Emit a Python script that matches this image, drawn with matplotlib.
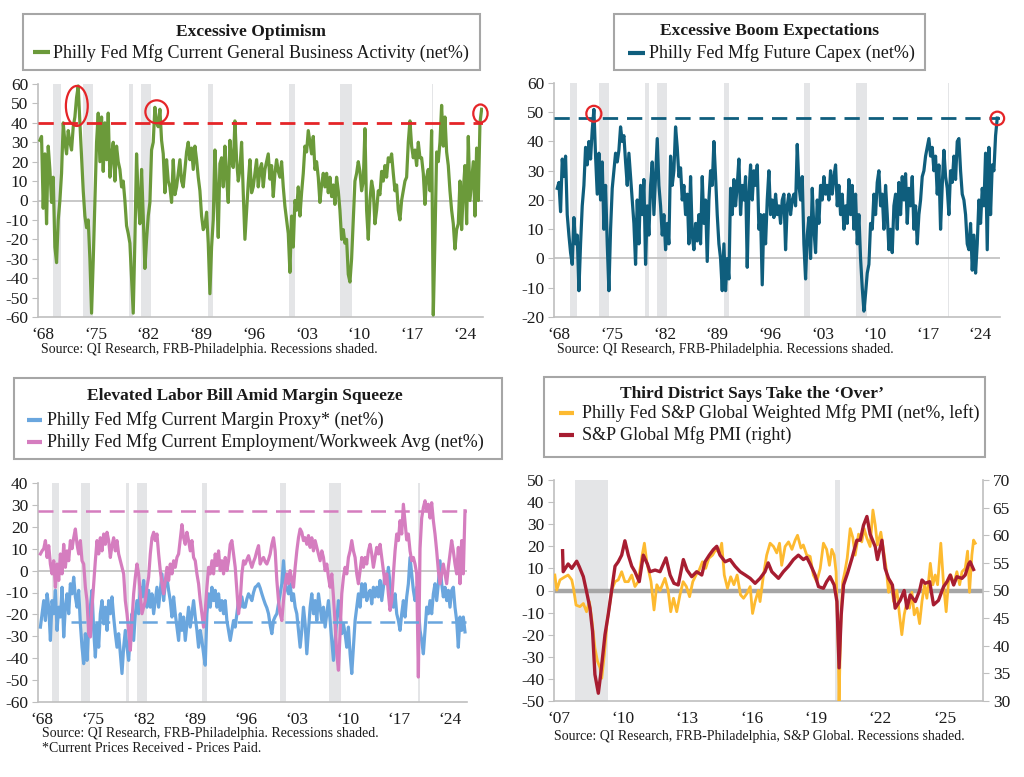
import numpy as np
import matplotlib
matplotlib.use('Agg')
import matplotlib.pyplot as plt
from matplotlib.patches import Ellipse, Rectangle
from matplotlib.lines import Line2D

plt.rcParams['font.family'] = ['Liberation Serif', 'DejaVu Serif']
plt.rcParams['axes.unicode_minus'] = False

# ---------------- DATA ----------------
# Panel 1: Philly Fed Mfg Current General Business Activity (net%), sampled ~4.5x per year
gba_start, gba_step = 1967.6, 0.2212
gba = [31, 33, -4, 24, -12, 28, 16, -1, 12, -24, -32, -10, 0, 14, 40, 30, 24, 36, 30, 26,
       38, 43, 53, 59, 40, 23, 5, -8, -14, -10, -30, -58, -31, 0, 30, 45, 20, 43, 15, 40,
       21, 45, 12, 23, 30, 10, 28, 20, 16, 7, 10, 0, -13, -17, -22, -40, -58, -20, 24, 0,
       -12, 16, -8, -35, -20, -8, -1, 26, 30, 48, 40, 38, 47, 31, 24, 4, 21, 10, 7, -1,
       21, 3, 7, 14, 21, 10, 7, 16, 25, 30, 21, 27, 16, 28, 21, 12, 5, -8, -15, -13,
       -6, -22, -48, -24, -10, 26, 5, -19, 19, 22, 7, 28, 12, -1, 31, 20, 17, 41, 21, 10,
       16, 30, 4, -20, -5, 9, 21, 4, 7, 14, 21, 7, 16, 19, 7, 16, 20, 24, 11, 18,
       2, 14, 21, 15, 12, 20, 7, -3, -10, -17, -37, -8, -24, 0, -5, 7, -8, 4, 14, 28,
       25, 36, 30, 24, 33, 16, 20, 12, -1, 8, 14, 7, 14, 4, 12, 2, 8, -2, 12, 5,
       -5, -20, -15, -22, -20, -38, -42, -30, -10, 10, 14, 20, 15, 5, 10, 37, -5, -20, 0, 10,
       5, -12, -5, 5, 3, 15, 10, 18, 12, 22, 20, 24, 14, 5, 8, -5, -10, 0, 5, 10,
       12, 30, 41, 28, 22, 26, 18, 30, 22, 22, 14, -2, 12, 16, 5, 36, -59, -20, 25, 20,
       30, 49, 28, 43, 25, 18, 5, -5, -12, -25, -15, -12, 10, -15, 5, 18, -12, 33, 0, 10,
       20, -8, 27, 0, 40, 47]

# Panel 2: Philly Fed Mfg Future Capex (net%)
capex_start, capex_step = 1967.73, 0.2216
capex = [24, 26, 16, 34, 28, 35, 15, 8, 2, -2, 14, 5, 8, -11, 5, 18, 25, 38, 32, 40,
         34, 44, 51, 35, 22, 36, 20, 33, 10, 25, 5, -11, 10, 24, 30, 36, 33, 37, 45, 40,
         42, 33, 25, 36, 28, 20, 12, -2, 20, 5, 25, 15, 27, -2, 18, 8, 25, 33, 15, 28,
         41, 25, 18, 8, 15, 3, 12, 5, 35, 25, 30, 45, 38, 28, 31, 20, 25, 15, 22, 5,
         28, 8, 3, 12, 6, 15, 5, 28, 12, 20, -1, 20, 30, 25, 40, 28, 15, 5, 0, -11,
         5, -11, 0, -7, 24, 15, 27, 18, 25, 34, 15, 25, 20, 28, -3, 22, 32, 20, 30, 25,
         32, 10, 15, -9, 15, 5, 20, 30, 15, 20, 14, 22, 15, 18, 12, 20, 22, 3, 18, 22,
         15, 20, 22, 18, 39, 25, 20, 28, 5, -7, 8, 14, 0, 24, 10, 2, 20, 12, 25, 20,
         28, 22, 25, 20, 30, 22, 28, 32, 18, 25, 15, 22, 10, 18, 12, 27, 15, 25, 10, 22,
         5, 15, 0, -10, -18, -12, -5, -2, 12, 10, 22, 15, 26, 30, 18, 22, 10, 25, 15, 3,
         10, 2, 18, 22, 10, 26, 15, 28, 20, 29, 12, 24, 18, 28, 10, 18, 5, 15, 20, 28,
         30, 35, 38, 41, 35, 38, 30, 35, 22, 32, 10, 25, 37, 28, 24, 15, 30, 26, 35, 27,
         40, 41, 30, 22, 20, 15, 5, 3, 12, -4, 8, -5, 5, 20, 12, 24, 18, 36, 3, 38,
         15, 32, 30, 42, 48]

# Panel 3: Margin proxy (blue) and Employment/Workweek avg (pink)
lab_start, lab_step = 1967.73, 0.2286
margin = [-25.8, -19.7, -13.7, -22.8, -10.6, -16.7, -31.9, -13.7, -19.7, -9, -27.3, -16.7, -21.2, -7.6,
          -30.3, -16.7, -10.6, -19.7, -6, -10.6, -3, -12, -16.7, -9, -24.3, -35, -42.5, -28.8, -41,
          -25.8, -16.7, -9, -27.3, -39.5, -24.3, -35, -19.7, -13.7, -24.3, -16.7, -27.3, -13.7, -19.7,
          -12, -21.2, -28.8, -35, -28.8, -38, -47, -35, -27.3, -35, -41, -28.8, -19.7, -31.9, -19.7,
          -13.7, -19.7, -7.6, -12, -4.5, -13.7, -16.7, -9, -16.7, -10.6, -19.7, -13.7, -7.6, -16.7,
          -9, -1.5, -13.7, -6, -3, -9, -13.7, -21.2, -12, -19.7, -25.8, -31.9, -19.7, -27.3, -21.2,
          -31.9, -24.3, -16.7, -25.8, -19.7, -13.7, -21.2, -27.3, -35, -27.3, -31.9, -38, -43.2,
          -19.7, -10.6, -16.7, -7.6, -13.7, -9, -16.7, -10.6, -18.2, -13.7, -19.7, -13.7, -22.8,
          -27.3, -31.9, -27.3, -22.8, -25.8, -19.7, -13.7, -16.7, -12, -16.7,
          -16.7, -13, -10.6, -12, -13.7, -10, -7.6, -7, -6, -8, -10.6, -13, -15.2, -17, -19.7, -25,
          -28.8, -22.8, -21, -19.7, -15, -10.6, -6, 4.5, -6, -8, -10.6, -6, -13.7, -10.6, -16.7,
          -19.7, -27.3, -35, -27.3, -16.7, -24.3, -38, -27.3, -16.7, -10.6, -19.7, -13.7, -22.8,
          -10.6, -16.7, -22.8, -16.7, -25.8, -19.7, -13.7, -22.8, -31.9, -41, -31.9, -22.8, -13.7,
          -19.7, -28.8, -24.3, -28.8, -35, -25.8, -38, -47, -35, -22.8, -16.7, -10.6, -16.7, -6,
          -12, -6, -13.7, -10.6, -9, -15.2, -7.6, -12, -7.6, -12, -4.5, -13.7, -7.6, -1.5, -6, 1.5,
          -6, -13.7, -16.7, -10.6, -19.7, -22.8, -27.3, -19.7, -13.7, -21.2, -12, -6, 6, -1.5, -9,
          -13.7, -7.6, -16.7, -27.3, -31.9, -38, -27.3, -16.7, -19.7, -13.7, -19.7, -10.6, -6,
          -13.7, -6, 4.5, -6, -12, -7.6, -13.7, -9, -16.7, -9, -7.6, -16.7, -22.8, -35, -21.2,
          -27.3, -21.2, -28]
employment = [7.6, 9, 10, 13.7, 6, 11.4, 3, -1.5, 4.5, -7.6, 3, -4.5, 7.6, -1.5, 12, 1.5, 9, 4.5,
              13.7, 10, 15, 19, 12, 7.6, 13.7, 4.5, 3, -7.6, -13.7, -28.8, -30.3, -16.7, -6, 4.5,
              13.7, 7.6, 15, 9, 16.7, 12, 17.5, 13.7, 6, 11.4, 15, 9, 13.7, 7.6, 4.5, 1.5, -1.5,
              -13.7, -19.7, -27.3, -36.4, -22.8, -10.6, -3, 3, -1.5, -10.6, -19.7, -16.7, -13.7,
              -7.6, -3, 7.6, 15, 17.5, 13.7, 16.7, 7.6, 0, -6, -10.6, -4.5, 1.5, -4.5, 3, -1.5, 4.5,
              1.5, 6, 7.6, 14.4, 21, 15, 12, 17.5, 13.7, 9, 13.7, 6, 4.5, -1.5, -6, -13.7, -19.7,
              -25.8, -18.2, -7.6, 1.5, -1.5, 4.5, -1.5, 7.6, 2.3, 9, 0, 4.5, -1.5, 6, 0, 4.5, 12,
              13.7, 7.6, 1.5, -9, -19.7, -13.7, -1.5, 4.5,
              3, 5, 6.8, 4, 1.5, 4, 6, 9, 11.4, 3, 5, 6, 4, 3, 5, 7.6, 12, 15, 9, -4.5, -13.7,
              -19.7, -22.8, -13.7, -6, -1.5, -6, 0, -4.5, -7.6, 1.5, 9, 15, 19, 17.5, 13.7, 15, 12,
              16, 10.6, 15, 9, 13.7, 10.6, 7.6, 4.5, 9, 6, 0, 3, -3, -7.6, -1.5, -12, -24, -38,
              -45.5, -28, -10.6, -3, 1.5, -1.5, 6, 9, 13.7, 9, 6, -1.5, -6, 0, 6, 1.5, 6, 3, 9, 12,
              7.6, 1.5, 6, 10.6, 7.6, 12, 6, 0, -6, -1.5, -10.6, -18.2, -13.7, -1.5, 9, 16.7, 13.7,
              22.8, 16.7, 30.3, 22, 14, 16.7, 9, 4.5, 6, 3, -1.5, -48.6, 10, 24, 28.8, 31.9, 27.3,
              30.3, 24, 31, 22.8, 16.7, 9, 0, -6, -1.5, 3, -1.5, -6, 1.5, 7.6, 13.7, 9, 3, -1.5,
              10.6, -6, 13.7, -1.5, 27.3]

# Panel 4: Philly Fed S&P Global weighted Mfg PMI (net%, left) and S&P Global Mfg PMI (right)
wpmi_t = [2006.81, 2006.9, 2007.05, 2007.28, 2007.43, 2007.6, 2007.68, 2007.8, 2007.98, 2008.14,
          2008.29, 2008.42, 2008.53, 2008.68, 2008.8, 2008.92, 2009.0, 2009.12, 2009.25, 2009.37,
          2009.46, 2009.62, 2009.77, 2009.93, 2010.08, 2010.24, 2010.4, 2010.55, 2010.7, 2010.86,
          2010.99, 2011.1, 2011.2, 2011.3, 2011.44, 2011.57, 2011.72, 2011.95, 2012.1, 2012.22,
          2012.35, 2012.5, 2012.65, 2012.8, 2012.95, 2013.1, 2013.25, 2013.4, 2013.55, 2013.7,
          2013.85, 2014.0, 2014.17, 2014.33, 2014.5, 2014.6, 2014.72, 2014.87, 2015.02, 2015.17,
          2015.32, 2015.48, 2015.62, 2015.78, 2015.93, 2016.04, 2016.16, 2016.31, 2016.39, 2016.55,
          2016.7, 2016.86, 2017.02, 2017.17, 2017.3, 2017.4, 2017.56, 2017.72, 2017.88, 2018.03,
          2018.14, 2018.3, 2018.41, 2018.57, 2018.73, 2018.88, 2019.04, 2019.2, 2019.35, 2019.5,
          2019.63, 2019.74, 2019.85, 2019.94, 2020.04, 2020.08, 2020.16, 2020.25, 2020.35, 2020.46,
          2020.6, 2020.72, 2020.83, 2020.99, 2021.14, 2021.25, 2021.38, 2021.53, 2021.66, 2021.77,
          2021.87, 2022.03, 2022.16, 2022.28, 2022.39, 2022.5, 2022.63, 2022.78, 2022.9, 2023.01,
          2023.12, 2023.25, 2023.37, 2023.48, 2023.59, 2023.72, 2023.84, 2023.95, 2024.07, 2024.18,
          2024.34, 2024.46, 2024.57, 2024.68, 2024.83, 2024.96, 2025.08, 2025.19, 2025.3, 2025.43,
          2025.58, 2025.71, 2025.82, 2025.97, 2026.08, 2026.17, 2026.28, 2026.36, 2026.44]
wpmi = [7, 0.2, 4.8, 6.2, 7, 4.8, 1, -6.6, -7.3, -5.9, -9.6, -5, -12.6, -26, -32, -35, -39.7, -29,
        -14, -6.6, 0, 4, 4.8, 8.5, 4, 4, 7, 1.8, 4, 14.6, 21.4, 13, 8.5, 4, -8.8, 2.6, 0, 5.5, 0,
        -9.6, -3.5, -9.6, -2, 4, 1.8, -2.8, 4, 7, 9.3, 13, 10, 14.6, 16, 18.6, 17, 21.4, 7, 1,
        6.2, 2.6, 7, -2, -3.5, -1.3, 1.8, -10.4, -5, 0, -5, 7, 16, 21.4, 19.9, 17, 21.4, 11.4,
        19.9, 22, 18.6, 22.8, 25, 19.2, 20.6, 16, 15.4, 7, 4, 10, 21.4, 18.6, 11.4, 18.6, 16,
        8.5, -26, -50, -15, 4, 8.5, 14.6, 28, 24, 16, 25.5, 22, 28, 23.6, 19.9, 36.4, 29.6, 20.6,
        26.4, 17.8, 10, -0.8, 4, -5, 0, -11, -20, -11, -5, -8, -0.8, -11, -8, -15, -5, 2.6,
        -3.5, 12.3, 2.6, 7, 2.6, 21.4, 2.6, -9.6, 4, 7, 2.6, 8.5, 2.6, 8.5, 10, 17.8, -0.8, 16,
        22.8, 21.4]
spmi_t = [2007.17, 2007.2, 2007.43, 2007.6, 2007.83, 2007.95, 2008.14, 2008.29, 2008.45, 2008.57,
          2008.68, 2008.84, 2008.95, 2009.15, 2009.3, 2009.46, 2009.62, 2009.77, 2009.93, 2010.08,
          2010.24, 2010.4, 2010.55, 2010.75, 2010.94, 2011.13, 2011.25, 2011.49, 2011.72, 2012.0,
          2012.19, 2012.37, 2012.57, 2012.81, 2012.98, 2013.2, 2013.43, 2013.67, 2013.82, 2014.02,
          2014.21, 2014.37, 2014.52, 2014.76, 2014.99, 2015.22, 2015.46, 2015.7, 2015.93, 2016.16,
          2016.39, 2016.62, 2016.77, 2016.94, 2017.25, 2017.48, 2017.72, 2017.95, 2018.18, 2018.41,
          2018.57, 2018.73, 2018.96, 2019.12, 2019.35, 2019.5, 2019.66, 2019.85, 2019.98, 2020.08,
          2020.18, 2020.29, 2020.48, 2020.68, 2020.91, 2021.07, 2021.22, 2021.38, 2021.53, 2021.77,
          2021.87, 2022.08, 2022.23, 2022.39, 2022.57, 2022.7, 2022.93, 2023.12, 2023.25, 2023.4,
          2023.64, 2023.84, 2023.95, 2024.1, 2024.31, 2024.49, 2024.72, 2024.96, 2025.12, 2025.27,
          2025.43, 2025.58, 2025.82, 2025.97, 2026.13, 2026.2, 2026.36]
spmi = [57.2, 53.4, 54.8, 54.0, 55.3, 54.3, 52.5, 49.8, 46.8, 42.6, 34.8, 31.4, 34.8, 42.0, 45.6,
        50.0, 54.4, 55.2, 56.4, 59.0, 56.4, 54.4, 53.4, 51.6, 56.4, 54.8, 53.4, 53.7, 53.4, 55.9,
        52.8, 51.3, 51.0, 55.6, 53.7, 52.5, 53.4, 52.8, 55.2, 56.4, 57.4, 58.0, 56.4, 55.2, 55.6,
        54.4, 53.4, 52.8, 52.2, 51.3, 52.2, 53.4, 55.0, 53.4, 52.2, 53.4, 54.4, 55.6, 56.4, 55.6,
        56.0, 54.8, 52.8, 50.7, 50.4, 51.6, 52.5, 51.0, 48.0, 36.0, 45.6, 51.0, 53.2, 55.8, 59.1,
        59.1, 61.8, 63.4, 60.2, 57.9, 55.6, 59.1, 54.0, 52.2, 51.0, 46.8, 48.2, 50.0, 46.8, 49.2,
        48.0, 50.0, 51.9, 51.3, 51.6, 47.4, 48.2, 50.7, 51.6, 52.8, 51.0, 52.5, 52.2, 52.8, 54.8,
        55.2, 53.8]

recessions_long = [(1969.37, 1970.35), (1973.27, 1974.6), (1979.46, 1979.9), (1980.96, 1982.34),
                   (1989.95, 1990.6), (2000.6, 2001.4), (2007.4, 2008.97), (2019.64, 2019.8)]
recessions_short = [(2007.73, 2009.29), (2019.88, 2020.14)]

years_long = [1968, 1975, 1982, 1989, 1996, 2003, 2010, 2017, 2024]
years_short = [2007, 2010, 2013, 2016, 2019, 2022, 2025]

# highlighted peaks: (year, value, width_years, height_units)
opt_peaks = [(1972.5, 48.7, 2.9, 20.6), (1983.1, 45.7, 3.0, 11.8), (2026.06, 44.8, 1.9, 9.3)]
capex_peaks = [(1972.6, 49.5, 2.0, 5.4), (2026.25, 47.9, 1.8, 4.6)]
opt_threshold = 40
capex_threshold = 48
emp_threshold = 27
margin_threshold = -23.5
margin_threshold_from = 1971.9

# ---------------- COLORS ----------------
GREEN = '#6B9A3A'
TEAL = '#0F5E7D'
BLUE = '#6AA6DE'
PINK = '#D57DBF'
GOLD = '#FDBA30'
CRIMSON = '#A71D31'
RED = '#E52528'
SHADE = '#E4E5E7'
SPINE = '#BFBFBF'
TXT = '#1A1A1A'

W, H = 1024, 777
fig = plt.figure(figsize=(W / 100, H / 100), dpi=100)


def rect(l, t, r, b):
    return [l / W, 1 - b / H, (r - l) / W, (b - t) / H]


def fx(x):
    return x / W


def fy(y):
    return 1 - y / H


def style(ax, yticks, xticks, xlabels):
    for s in ['top', 'right']:
        ax.spines[s].set_visible(False)
    for s in ['left', 'bottom']:
        ax.spines[s].set_color(SPINE)
        ax.spines[s].set_linewidth(1.2)
    ax.set_yticks(yticks)
    ax.set_yticklabels([str(v) for v in yticks])
    ax.set_xticks(xticks)
    ax.set_xticklabels(xlabels)
    ax.tick_params(axis='y', length=4, color=SPINE, labelsize=12.5, pad=3, labelcolor=TXT)
    ax.tick_params(axis='x', length=0, labelsize=12.5, pad=7, labelcolor=TXT)


def shade(ax, recs):
    for a, b in recs:
        ax.axvspan(a, b, color=SHADE, lw=0, zorder=0)


def box(l, t, r, b):
    fig.patches.append(Rectangle((fx(l), fy(b)), (r - l) / W, (b - t) / H,
                                 transform=fig.transFigure, facecolor='white',
                                 edgecolor='#A6A6A6', lw=1.5, zorder=0))


def legline(x1, x2, y, color):
    fig.add_artist(Line2D([fx(x1), fx(x2)], [fy(y), fy(y)], color=color, lw=3,
                          solid_capstyle='butt'))


def long_labels(ys):
    return ['\u2018%02d' % (y % 100) for y in ys]


TFS = 12.5   # title font
LFS = 13     # legend font
SFS = 10     # source font

# ---------------- PANEL 1 ----------------
ax1 = fig.add_axes(rect(38, 84, 483, 317))
t1 = gba_start + gba_step * np.arange(len(gba))
shade(ax1, recessions_long)
ax1.axhline(0, color=SPINE, lw=1.2, zorder=1)
ax1.plot(t1, gba, color=GREEN, lw=2.3, zorder=3, solid_joinstyle='round')
ax1.axhline(opt_threshold, color=RED, lw=2, ls=(0, (5.5, 3.2)), zorder=4)
for (x, y, w, h) in opt_peaks:
    ax1.add_patch(Ellipse((x, y), w, h, fill=False, edgecolor=RED, lw=1.6, zorder=5, clip_on=False))
ax1.set_xlim(1967.35, 2026.4)
ax1.set_ylim(-60, 60)
style(ax1, list(range(-60, 61, 10)), years_long, long_labels(years_long))

box(23, 14, 480, 70)
fig.text(fx(251.5), fy(36), 'Excessive Optimism', ha='center', va='baseline',
         fontsize=TFS, weight='bold', color=TXT)
legline(33, 50, 52, GREEN)
fig.text(fx(53), fy(58), 'Philly Fed Mfg Current General Business Activity (net%)',
         ha='left', va='baseline', fontsize=LFS, color=TXT)
fig.text(fx(41), fy(353), 'Source: QI Research, FRB-Philadelphia. Recessions shaded.',
         ha='left', va='baseline', fontsize=SFS, color=TXT)

# ---------------- PANEL 2 ----------------
ax2 = fig.add_axes(rect(554, 83, 1000, 317))
t2 = capex_start + capex_step * np.arange(len(capex))
shade(ax2, recessions_long)
ax2.axhline(0, color=SPINE, lw=1.2, zorder=1)
ax2.plot(t2, capex, color=TEAL, lw=2.3, zorder=3, solid_joinstyle='round')
ax2.axhline(capex_threshold, color=TEAL, lw=2, ls=(0, (5.5, 3.2)), zorder=4)
for (x, y, w, h) in capex_peaks:
    ax2.add_patch(Ellipse((x, y), w, h, fill=False, edgecolor=RED, lw=1.6, zorder=5, clip_on=False))
ax2.set_xlim(1967.3, 2026.6)
ax2.set_ylim(-20, 60)
style(ax2, list(range(-20, 61, 10)), years_long, long_labels(years_long))

box(614, 14, 925, 70)
fig.text(fx(770), fy(35), 'Excessive Boom Expectations', ha='center', va='baseline',
         fontsize=TFS, weight='bold', color=TXT)
legline(628, 645, 53, TEAL)
fig.text(fx(649), fy(58), 'Philly Fed Mfg Future Capex (net%)',
         ha='left', va='baseline', fontsize=LFS, color=TXT)
fig.text(fx(557), fy(353), 'Source: QI Research, FRB-Philadelphia. Recessions shaded.',
         ha='left', va='baseline', fontsize=SFS, color=TXT)

# ---------------- PANEL 3 ----------------
ax3 = fig.add_axes(rect(38, 483, 467, 702))
t3 = lab_start + lab_step * np.arange(len(margin))
shade(ax3, recessions_long)
ax3.axhline(0, color=SPINE, lw=1.2, zorder=1)
ax3.plot(t3, margin, color=BLUE, lw=2.3, zorder=3, solid_joinstyle='round')
ax3.plot(t3, employment, color=PINK, lw=2.3, zorder=4, solid_joinstyle='round')
ax3.set_xlim(1967.4, 2026.3)
ax3.set_ylim(-60, 40)
ax3.axhline(emp_threshold, color=PINK, lw=1.8, ls=(0, (6, 3.5)), zorder=5)
ax3.hlines(margin_threshold, margin_threshold_from, 2026.3, color=BLUE, lw=1.8,
           linestyles=[(0, (6, 3.5))], zorder=5)
style(ax3, list(range(-60, 41, 10)), years_long, long_labels(years_long))

box(14, 378, 502, 459)
fig.text(fx(245), fy(400), 'Elevated Labor Bill Amid Margin Squeeze', ha='center', va='baseline',
         fontsize=TFS, weight='bold', color=TXT)
legline(27, 42, 420, BLUE)
fig.text(fx(47), fy(425), 'Philly Fed Mfg Current Margin Proxy* (net%)',
         ha='left', va='baseline', fontsize=LFS, color=TXT)
legline(27, 42, 442, PINK)
fig.text(fx(47), fy(447), 'Philly Fed Mfg Current Employment/Workweek Avg (net%)',
         ha='left', va='baseline', fontsize=LFS, color=TXT)
fig.text(fx(42), fy(737), 'Source: QI Research, FRB-Philadelphia. Recessions shaded.',
         ha='left', va='baseline', fontsize=SFS, color=TXT)
fig.text(fx(42), fy(752), '*Current Prices Received - Prices Paid.',
         ha='left', va='baseline', fontsize=SFS, color=TXT)

# ---------------- PANEL 4 ----------------
ax4 = fig.add_axes(rect(554, 480, 983, 701))
shade(ax4, recessions_short)
ax4.axhline(0, color='#A6A6A6', lw=3.2, zorder=1)
ax4.plot(wpmi_t, wpmi, color=GOLD, lw=2.0, zorder=3, solid_joinstyle='round')
ax4.set_xlim(2006.77, 2026.8)
ax4.set_ylim(-50, 50)
style(ax4, list(range(-50, 51, 10)), years_short, long_labels(years_short))
ax4r = ax4.twinx()
ax4r.plot(spmi_t, spmi, color=CRIMSON, lw=2.4, zorder=3, solid_joinstyle='round')
ax4r.set_ylim(30, 70)
ax4r.set_yticks(list(range(30, 71, 5)))
ax4r.set_yticklabels([str(v) for v in range(30, 71, 5)])
ax4r.tick_params(axis='y', length=4, color=SPINE, labelsize=12.5, pad=3, labelcolor=TXT)
ax4r.spines['top'].set_visible(False)
ax4r.spines['left'].set_visible(False)
ax4r.spines['bottom'].set_visible(False)
ax4r.spines['right'].set_color(SPINE)
ax4r.spines['right'].set_linewidth(1.2)
ax4r.set_xlim(2006.77, 2026.8)

box(544, 377, 985, 457)
fig.text(fx(752), fy(398), 'Third District Says Take the \u2018Over\u2019', ha='center', va='baseline',
         fontsize=TFS, weight='bold', color=TXT)
legline(559, 574, 413, GOLD)
fig.text(fx(582), fy(418), 'Philly Fed S&P Global Weighted Mfg PMI (net%, left)',
         ha='left', va='baseline', fontsize=LFS, color=TXT)
legline(559, 574, 435, CRIMSON)
fig.text(fx(582), fy(440), 'S&P Global Mfg PMI (right)',
         ha='left', va='baseline', fontsize=LFS, color=TXT)
fig.text(fx(554), fy(740), 'Source: QI Research, FRB-Philadelphia, S&P Global. Recessions shaded.',
         ha='left', va='baseline', fontsize=SFS, color=TXT)

fig.savefig('out.png', dpi=100, facecolor='white')
